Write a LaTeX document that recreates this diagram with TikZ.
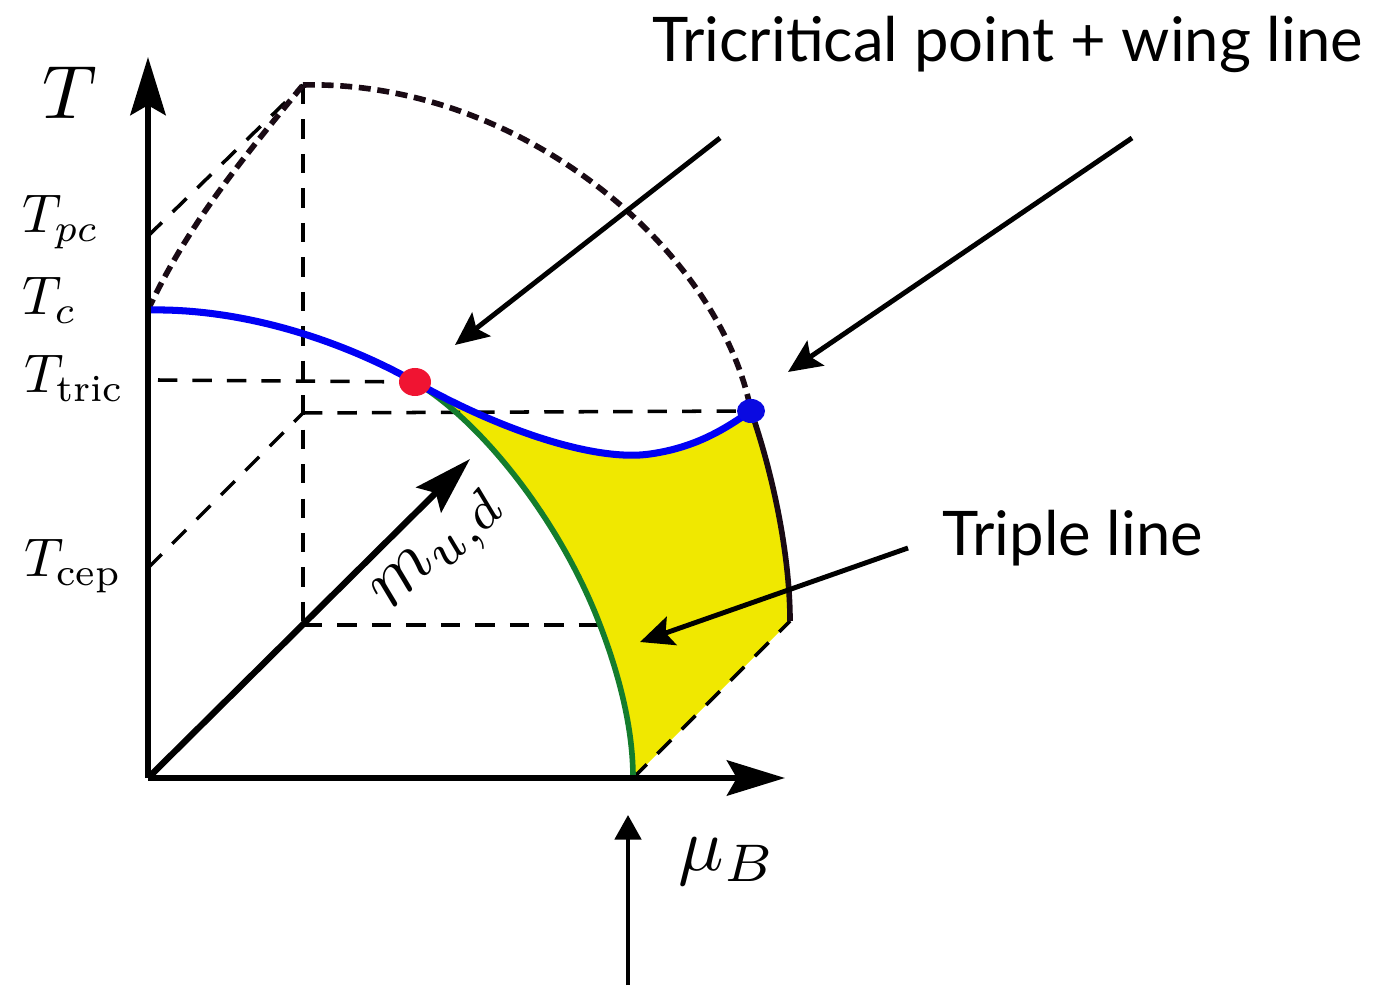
\documentclass[tikz,border=0pt]{standalone}
\usepackage{graphicx}
\usepackage{fontspec}
\newfontfamily\gillfont{Lato}
\usetikzlibrary{arrows.meta}
\definecolor{cblue}{RGB}{0,0,245}
\definecolor{cdotblue}{RGB}{10,10,225}
\definecolor{cred}{RGB}{240,20,50}
\definecolor{cgreen}{RGB}{20,125,45}
\definecolor{cyellow}{RGB}{240,232,0}
\definecolor{cdark}{RGB}{25,10,20}
\tikzset{
  axis/.style={line width=1.8pt, -{Stealth[length=16.5pt,width=10pt,inset=2.8pt]}},
  ann/.style={line width=1.4pt, -{Stealth[length=9.5pt,width=8.5pt,inset=1.8pt]}},
  thindash/.style={line width=1pt, dash pattern=on 5.5pt off 4.3pt},
  thickdash/.style={line width=1.6pt, dash pattern=on 3.4pt off 1.9pt, color=cdark},
  tlabel/.style={inner sep=0pt},
  sanslabel/.style={font=\gillfont\fontsize{17.5}{20}\selectfont, inner sep=0pt}
}
\newcommand{\tl}[1]{\scalebox{1.55}{$#1$}}
\newcommand{\bl}[1]{\scalebox{2.15}{$#1$}}
\begin{document}
\begin{tikzpicture}[x=0.01cm,y=-0.01cm]
\useasboundingbox (0,0) rectangle (1383,986);
% key points
\coordinate (O) at (148,778);
\coordinate (Ttop) at (148,57);
\coordinate (Mtip) at (785,778);
\coordinate (Dtip) at (470,459);
\coordinate (Tc) at (148,310);
\coordinate (Tpc) at (148,236);
\coordinate (Ttric) at (158,380);
\coordinate (Tcep) at (148,568);
\coordinate (Btop) at (303,85);
\coordinate (Bbot) at (303,625);
\coordinate (Bcep) at (303,413);
\coordinate (R) at (415,382);
\coordinate (BL) at (751,411);
\coordinate (TL) at (790,621);
\coordinate (G) at (633,778);
\coordinate (Gmid) at (600,625);
% yellow region
\fill[cyellow] (R) .. controls (500,430) and (595,462) .. (650,454)
   .. controls (700,447) and (730,425) .. (BL)
   .. controls (775,480) and (790,560) .. (TL) -- (G)
   .. controls (633,740) and (625,690) .. (Gmid)
   .. controls (560,520) and (480,420) .. (R) -- cycle;
% thin dashed construction lines
\draw[thindash] (Tpc) -- (Btop);
\draw[thindash] (Btop) -- (Bbot);
\draw[thindash] (Bbot) -- (Gmid);
\draw[thindash] (Ttric) -- (R);
\draw[thindash] (Bcep) -- (BL);
\draw[thindash] (Tcep) -- (Bcep);
\draw[thindash] (G) -- (TL);
% thick dashed curves
\draw[thickdash] (Tc) .. controls (190,220) and (250,150) .. (Btop);
\draw[thickdash] (Btop) .. controls (520,80) and (720,250) .. (BL);
% green line
\draw[cgreen, line width=1.6pt] (R) .. controls (480,420) and (560,520) .. (Gmid)
   .. controls (625,690) and (633,740) .. (G);
% triple line
\draw[cdark, line width=1.6pt] (BL) .. controls (775,480) and (790,560) .. (TL);
% blue line
\draw[cblue, line width=2pt] (Tc) .. controls (250,308) and (350,345) .. (R)
   .. controls (500,430) and (595,462) .. (650,454)
   .. controls (700,447) and (730,425) .. (BL);
% points
\fill[cred] (R) ellipse [x radius=16, y radius=14];
\fill[cdotblue] (BL) ellipse [x radius=14, y radius=12];
% axes
\draw[axis] (O) -- (Ttop);
\draw[axis] (O) -- (Mtip);
\draw[axis] (O) -- (Dtip);
% labels
\node[tlabel] (lT) at (70,93) {\bl{T}};
\node[tlabel, anchor=base west] (lTpc) at (22,233) {\tl{T_{pc}}};
\node[tlabel, anchor=base west] (lTc) at (22,315) {\tl{T_{c}}};
\node[tlabel, anchor=base west] (lTtric) at (24,393) {\tl{T_{\mathrm{tric}}}};
\node[tlabel, anchor=base west] (lTcep) at (24,577) {\tl{T_{\mathrm{cep}}}};
\node[tlabel, anchor=base west] (lmu) at (678,870) {\bl{\mu_B}};
\node[tlabel, rotate=45] (lm) at (442,553) {\bl{m_{u,d}}};
\node[sanslabel, anchor=base west] (ltri) at (652,62) {Tricritical point + wing line};
\node[sanslabel, anchor=base west] (ltrip) at (942,555) {Triple line};
% annotation arrows
\coordinate (a1s) at (720,138);
\coordinate (a1e) at (455,345);
\coordinate (a2s) at (1132,138);
\coordinate (a2e) at (788,372);
\coordinate (a3s) at (908,548);
\coordinate (a3e) at (640,642);
\coordinate (a4s) at (628,985);
\coordinate (a4e) at (628,815);
\draw[ann] (a1s) -- (a1e);
\draw[ann] (a2s) -- (a2e);
\draw[ann] (a3s) -- (a3e);
\draw[line width=1.1pt, -{Triangle[length=7pt,width=7.5pt]}] (a4s) -- (a4e);
\end{tikzpicture}
\end{document}
